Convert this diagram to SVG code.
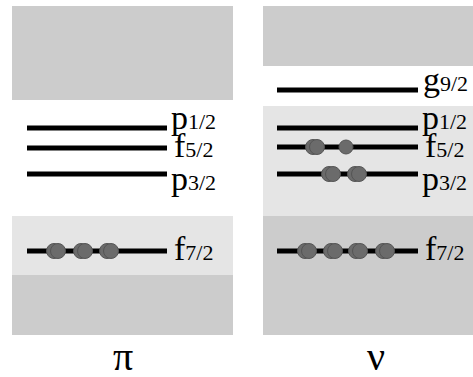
<svg xmlns="http://www.w3.org/2000/svg" width="473" height="377" viewBox="0 0 473 377">
<defs>
<style>
.dark{fill:#cccccc}
.light{fill:#e5e5e5}
.lvl{stroke:#000;stroke-width:5;fill:none}
.e{fill:#6b6b6b;stroke:#555555;stroke-width:1}
.lbl{font-family:"Liberation Serif","DejaVu Serif",serif;font-size:34px;fill:#000}
.sub{font-size:22px}
.grk{font-family:"Liberation Serif","DejaVu Serif",serif;font-size:40px;fill:#000;text-anchor:middle}
</style>
</defs>
<rect width="473" height="377" fill="#fff"/>
<g id="proton">
<rect class="dark" x="12" y="6" width="221" height="94"/>
<rect class="light" x="12" y="216" width="221" height="59"/>
<rect class="dark" x="12" y="275" width="221" height="60"/>
<text class="grk" x="123" y="370">π</text>
</g>
<g id="neutron">
<rect class="dark" x="263" y="6" width="210" height="60"/>
<rect class="light" x="263" y="106" width="210" height="110"/>
<rect class="dark" x="263" y="216" width="210" height="119"/>
<text class="grk" x="376" y="370">ν</text>
</g>
<g id="connectors">
<line class="lvl" x1="27" y1="128" x2="167" y2="128"/>
<line class="lvl" x1="27" y1="148" x2="167" y2="148"/>
<line class="lvl" x1="27" y1="174" x2="167" y2="174"/>
<line class="lvl" x1="27" y1="251" x2="167" y2="251"/>
<line class="lvl" x1="277" y1="90" x2="418" y2="90"/>
<line class="lvl" x1="277" y1="128" x2="418" y2="128"/>
<line class="lvl" x1="277" y1="147" x2="418" y2="147"/>
<line class="lvl" x1="277" y1="174" x2="418" y2="174"/>
<line class="lvl" x1="277" y1="251" x2="418" y2="251"/>
</g>
<g id="pi-p12"><text class="lbl" x="171" y="129">p<tspan class="sub">1/2</tspan></text></g>
<g id="pi-f52"><text class="lbl" x="174" y="157">f<tspan class="sub">5/2</tspan></text></g>
<g id="pi-p32"><text class="lbl" x="171" y="190">p<tspan class="sub">3/2</tspan></text></g>
<g id="pi-f72"><text class="lbl" x="174" y="260">f<tspan class="sub">7/2</tspan></text></g>
<g id="pi-f72-particles">
<circle class="e" cx="54" cy="251" r="7.5"/><circle class="e" cx="58" cy="251" r="7.5"/>
<circle class="e" cx="81" cy="251" r="7.5"/><circle class="e" cx="85" cy="251" r="7.5"/>
<circle class="e" cx="107" cy="251" r="7.5"/><circle class="e" cx="111" cy="251" r="7.5"/>
</g>
<g id="nu-g92"><text class="lbl" x="423" y="91">g<tspan class="sub">9/2</tspan></text></g>
<g id="nu-p12"><text class="lbl" x="422" y="129">p<tspan class="sub">1/2</tspan></text></g>
<g id="nu-f52"><text class="lbl" x="425" y="157">f<tspan class="sub">5/2</tspan></text></g>
<g id="nu-p32"><text class="lbl" x="422" y="190">p<tspan class="sub">3/2</tspan></text></g>
<g id="nu-f72"><text class="lbl" x="425" y="260">f<tspan class="sub">7/2</tspan></text></g>
<g id="nu-f52-particles">
<circle class="e" cx="313" cy="147" r="7.5"/><circle class="e" cx="317" cy="147" r="7.5"/>
<circle class="e" cx="346" cy="147" r="7"/>
</g>
<g id="nu-p32-particles">
<circle class="e" cx="329" cy="174" r="7.5"/><circle class="e" cx="333" cy="174" r="7.5"/>
<circle class="e" cx="355" cy="174" r="7.5"/><circle class="e" cx="359" cy="174" r="7.5"/>
</g>
<g id="nu-f72-particles">
<circle class="e" cx="305" cy="251" r="7.5"/><circle class="e" cx="309" cy="251" r="7.5"/>
<circle class="e" cx="331" cy="251" r="7.5"/><circle class="e" cx="335" cy="251" r="7.5"/>
<circle class="e" cx="356" cy="251" r="7.5"/><circle class="e" cx="360" cy="251" r="7.5"/>
<circle class="e" cx="383" cy="251" r="7.5"/><circle class="e" cx="387" cy="251" r="7.5"/>
</g>
</svg>
